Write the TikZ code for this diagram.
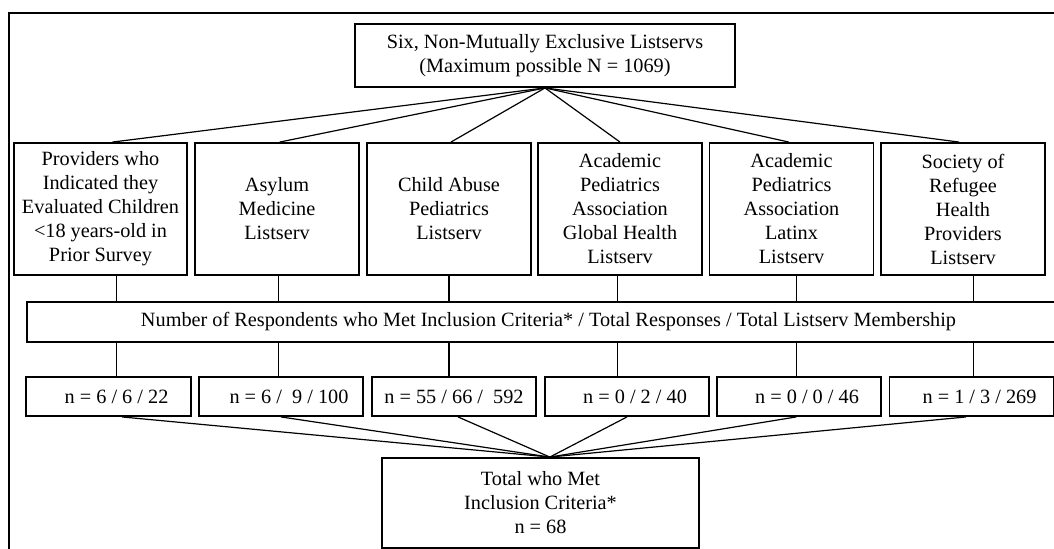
\documentclass[tikz,border=0pt]{standalone}
\usepackage{fontspec}
\setmainfont{Liberation Serif}

\begin{document}
\begin{tikzpicture}[x=0.75pt, y=-0.75pt,
  box/.style={draw, line width=1.4pt, fill=white, align=center,
              font=\fontsize{15.2}{18}\selectfont, inner sep=1pt},
  listbox/.style={box, minimum width=123pt, minimum height=99pt},
  countbox/.style={box, minimum width=123pt, minimum height=29.25pt},
  link/.style={line width=0.9pt}]
\useasboundingbox (0,0) rectangle (1054,549);
% outer frame, cut by the page
\draw[line width=1.5pt] (9,549) -- (9,13) -- (1054,13);

\node[box, minimum width=285pt, minimum height=47.25pt] (top) at (545,55.5)
  {Six, Non-Mutually Exclusive Listservs\\(Maximum possible N = 1069)};

\node[listbox, minimum width=129.75pt] (b1) at (100.5,209)
  {Providers who\\Indicated they\\Evaluated Children\\<18 years-old in\\Prior Survey};
\node[listbox] (b2) at (277,209) {Asylum\\Medicine\\Listserv};
\node[listbox] (b3) at (449,209) {Child Abuse\\Pediatrics\\Listserv};
\node[listbox] (b4) at (620,209) {Academic\\Pediatrics\\Association\\Global Health\\Listserv};
\node[listbox] (b5) at (791.5,209) {Academic\\Pediatrics\\Association\\Latinx\\Listserv};
\node[listbox] (b6) at (963,209) {Society of\\Refugee\\Health\\Providers\\Listserv};

\node[box, minimum width=782.25pt, minimum height=30pt] (wide) at (548.5,322)
  {Number of Respondents who Met Inclusion Criteria* / Total Responses / Total Listserv Membership};

\node[countbox, minimum width=123.75pt] (n1) at (108.5,396.5) {\hspace*{12pt}n = 6 / 6 / 22};
\node[countbox] (n2) at (281,396.5) {\hspace*{12pt}n = 6 / ~9 / 100};
\node[countbox] (n3) at (454,396.5) {n = 55 / 66 / ~592};
\node[countbox] (n4) at (627,396.5) {\hspace*{12pt}n = 0 / 2 / 40};
\node[countbox] (n5) at (799,396.5) {\hspace*{12pt}n = 0 / 0 / 46};
\node[countbox] (n6) at (971.5,396.5) {\hspace*{12pt}n = 1 / 3 / 269};

\node[box, minimum width=237.75pt, minimum height=67.5pt] (total) at (540.5,503)
  {Total who Met\\Inclusion Criteria*\\n = 68};

% fan out from the top box
\draw[link] (top.south) -- ([xshift=9pt]b1.north);
\draw[link] (top.south) -- ([xshift=2pt]b2.north);
\draw[link] (top.south) -- ([xshift=1.5pt]b3.north);
\draw[link] (top.south) -- (b4.north);
\draw[link] (top.south) -- ([xshift=-2pt]b5.north);
\draw[link] (top.south) -- ([xshift=-3pt]b6.north);

% verticals through the wide box
\coordinate (v1) at ([xshift=12pt]b1.south);
\coordinate (v2) at ([xshift=1pt]b2.south);
\coordinate (v3) at (b3.south);
\coordinate (v4) at ([xshift=-2pt]b4.south);
\coordinate (v5) at ([xshift=3.5pt]b5.south);
\coordinate (v6) at ([xshift=8pt]b6.south);
\draw[link] (v1) -- (v1 |- wide.north);
\draw[link] (v2) -- (v2 |- wide.north);
\draw[link] (v3) -- (v3 |- wide.north);
\draw[link] (v4) -- (v4 |- wide.north);
\draw[link] (v5) -- (v5 |- wide.north);
\draw[link] (v6) -- (v6 |- wide.north);
\draw[link] (v1 |- wide.south) -- (v1 |- n1.north);
\draw[link] (v2 |- wide.south) -- (v2 |- n2.north);
\draw[link] (v3 |- wide.south) -- (v3 |- n3.north);
\draw[link] (v4 |- wide.south) -- (v4 |- n4.north);
\draw[link] (v5 |- wide.south) -- (v5 |- n5.north);
\draw[link] (v6 |- wide.south) -- (v6 |- n6.north);

% gather into the total
\coordinate (tip) at ([xshift=7pt]total.north);
\draw[link] ([xshift=10pt]n1.south) -- (tip);
\draw[link] (n2.south) -- (tip);
\draw[link] ([xshift=3pt]n3.south) -- (tip);
\draw[link] (n4.south) -- (tip);
\draw[link] ([xshift=-2pt]n5.south) -- (tip);
\draw[link] ([xshift=-4pt]n6.south) -- (tip);
\end{tikzpicture}
\end{document}
